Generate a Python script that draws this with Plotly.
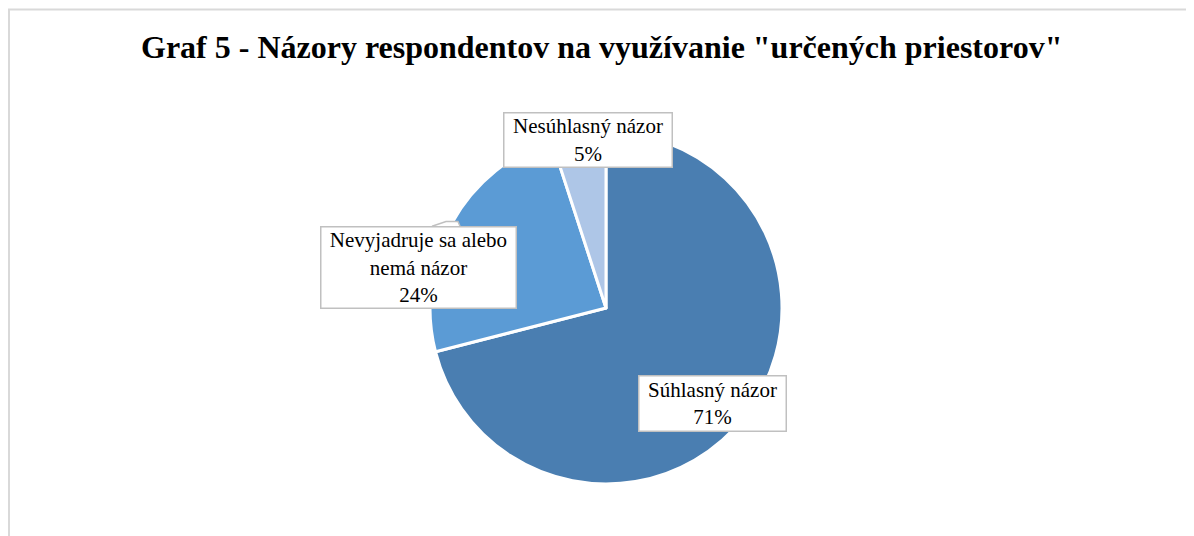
import plotly.graph_objects as go

categories = ["Súhlasný názor", "Nevyjadruje sa alebo<br>nemá názor", "Nesúhlasný názor"]
values = [71, 24, 5]
colors = ["#4a7eb1", "#5b9bd5", "#aec6e7"]
# label box centers and sizes in pixels
label_pos = [(704.5, 395.5), (410.5, 259.5), (580, 132)]
label_size = [(149, 57), (197, 83), (170, 56)]

W, H = 1194, 536
title = 'Graf 5 - Názory respondentov na využívanie "určených priestorov"'

cx, cy, r = 598, 300, 176

fig = go.Figure(go.Pie(
    labels=categories, values=values, sort=False, direction="clockwise", rotation=0,
    marker=dict(colors=colors, line=dict(color="white", width=3)),
    textinfo="none", hoverinfo="label+percent", showlegend=False,
    domain=dict(x=[(cx - r) / W, (cx + r) / W], y=[1 - (cy + r) / H, 1 - (cy - r) / H]),
))

total = sum(values)
for cat, v, (px, py), (bw, bh) in zip(categories, values, label_pos, label_size):
    fig.add_annotation(
        x=px / W, y=1 - py / H, xref="paper", yref="paper", showarrow=False,
        text=f"{cat}<br>{round(100 * v / total)}%",
        font=dict(family="Liberation Serif", size=21, color="#000000"),
        bgcolor="white", bordercolor="#c0c0c0", borderwidth=1.5, borderpad=0,
        width=bw - 3, height=bh - 3,
        xanchor="center", yanchor="middle", align="center", valign="middle",
    )

# small callout notch on top of the middle label box
def P(x, y):
    return f"{x / W:.5f},{1 - y / H:.5f}"

fig.add_shape(type="path", xref="paper", yref="paper",
              path=f"M{P(424, 218.6)} L{P(438, 213.5)} L{P(450, 213.5)} L{P(452, 218.6)} Z",
              fillcolor="white", line=dict(width=0), layer="above")
fig.add_shape(type="path", xref="paper", yref="paper",
              path=f"M{P(424, 218.3)} L{P(438, 213.5)} L{P(450, 213.5)} L{P(452, 218.3)}",
              line=dict(color="#c0c0c0", width=1.5), layer="above")

fig.add_annotation(
    x=593 / W, y=1 - 39 / H, xref="paper", yref="paper", showarrow=False,
    text=f"<b>{title}</b>", font=dict(family="Liberation Serif", size=32, color="#000000"),
    xanchor="center", yanchor="middle",
)

fig.add_shape(type="rect", xref="paper", yref="paper",
              x0=1 / W, x1=1.05, y0=-0.05, y1=1 - 1.5 / H,
              line=dict(color="#d9d9d9", width=2), fillcolor="rgba(0,0,0,0)", layer="below")

fig.update_layout(
    width=W, height=H, margin=dict(l=0, r=0, t=0, b=0),
    paper_bgcolor="white", plot_bgcolor="white",
)

fig.write_html("out.html")
